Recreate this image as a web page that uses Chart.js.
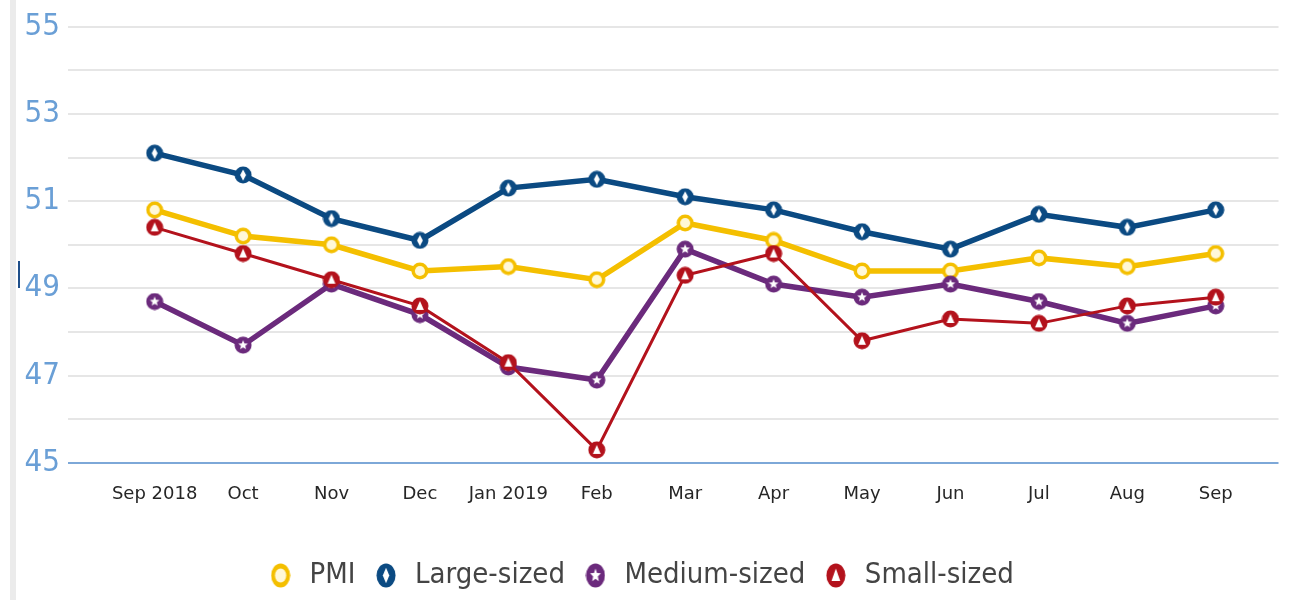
<!DOCTYPE html>
<html>
<head>
<meta charset="utf-8">
<script src="https://cdn.jsdelivr.net/npm/chart.js@4/dist/chart.umd.min.js"></script>
<style>
  html, body { margin: 0; padding: 0; background: #fff; }
  #wrap { position: relative; width: 1293px; height: 600px; }
  #strip { position: absolute; left: 10px; top: 0; width: 6px; height: 600px; background: #ebebeb; }
  #mark { position: absolute; left: 18px; top: 261px; width: 2px; height: 27px; background: #1f4f8a; }
  canvas { position: absolute; left: 0; top: 0; }
</style>
</head>
<body>
<div id="wrap">
  <div id="strip"></div>
  <div id="mark"></div>
  <canvas id="c" width="1293" height="600"></canvas>
</div>
<script>
// libellés des mois
const months = ['Sep 2018', 'Oct', 'Nov', 'Dec', 'Jan 2019', 'Feb', 'Mar', 'Apr', 'May', 'Jun', 'Jul', 'Aug', 'Sep'];

// séries
const pmi    = [50.8, 50.2, 50.0, 49.4, 49.5, 49.2, 50.5, 50.1, 49.4, 49.4, 49.7, 49.5, 49.8];
const large  = [52.1, 51.6, 50.6, 50.1, 51.3, 51.5, 51.1, 50.8, 50.3, 49.9, 50.7, 50.4, 50.8];
const medium = [48.7, 47.7, 49.1, 48.4, 47.2, 46.9, 49.9, 49.1, 48.8, 49.1, 48.7, 48.2, 48.6];
const small  = [50.4, 49.8, 49.2, 48.6, 47.3, 45.3, 49.3, 49.8, 47.8, 48.3, 48.2, 48.6, 48.8];

const seriesNames = ['PMI', 'Large-sized', 'Medium-sized', 'Small-sized'];
const yTicks = [45, 47, 49, 51, 53, 55];

const colors = ['#f4bf00', '#0b4a82', '#6b2a7c', '#b3121c'];
const inner = ['circle', 'diamond', 'star', 'triangle'];

// petit marqueur : disque coloré avec une forme blanche au centre
function makeMarker(color, shape, w, h) {
  const cv = document.createElement('canvas');
  cv.width = w; cv.height = h;
  const g = cv.getContext('2d');
  const cx = w / 2, cy = h / 2;
  g.fillStyle = color;
  g.beginPath();
  g.ellipse(cx, cy, w / 2 - 0.5, h / 2 - 0.5, 0, 0, Math.PI * 2);
  g.fill();
  g.fillStyle = shape === 'circle' ? '#fff8d8' : '#ffffff';
  const sx = w / 16, sy = h / 16;
  g.beginPath();
  if (shape === 'circle') {
    g.ellipse(cx, cy, 4.5 * sx, 4.5 * sy, 0, 0, Math.PI * 2);
  } else if (shape === 'diamond') {
    g.moveTo(cx, cy - 5 * sy); g.lineTo(cx + 2.6 * sx, cy); g.lineTo(cx, cy + 5 * sy); g.lineTo(cx - 2.6 * sx, cy);
    g.closePath();
  } else if (shape === 'star') {
    for (let i = 0; i < 10; i++) {
      const r = i % 2 === 0 ? 4.5 : 2;
      const a = -Math.PI / 2 + i * Math.PI / 5;
      const px = cx + Math.cos(a) * r * sx, py = cy + Math.sin(a) * r * sy;
      if (i === 0) g.moveTo(px, py); else g.lineTo(px, py);
    }
    g.closePath();
  } else {
    g.moveTo(cx, cy - 4.5 * sy); g.lineTo(cx + 3.5 * sx, cy + 3.5 * sy); g.lineTo(cx - 3.5 * sx, cy + 3.5 * sy);
    g.closePath();
  }
  g.fill();
  return cv;
}

const pointMarkers = colors.map((c, i) => makeMarker(c, inner[i], 18, 18));
const legendMarkers = colors.map((c, i) => makeMarker(c, inner[i], 20, 25));

const allData = [pmi, large, medium, small];
const widths = [5.5, 5.5, 5.5, 3];
const drawOrder = [2, 3, 1, 0];

const datasets = allData.map((vals, i) => ({
  label: seriesNames[i],
  data: vals.map((v, k) => ({ x: k, y: v })),
  borderColor: colors[i],
  backgroundColor: colors[i],
  borderWidth: widths[i],
  pointStyle: pointMarkers[i],
  pointRadius: 9,
  tension: 0,
  order: drawOrder[i]
}));

new Chart(document.getElementById('c'), {
  type: 'line',
  data: { datasets: datasets },
  options: {
    responsive: false,
    animation: false,
    layout: { padding: { left: 0, right: 13, top: 0, bottom: 0 } },
    plugins: {
      tooltip: { enabled: false },
      legend: {
        position: 'bottom',
        labels: {
          usePointStyle: true,
          color: '#444',
          font: { family: "'Liberation Sans Narrow', 'DejaVu Sans Condensed', sans-serif", size: 29 },
          padding: 16,
          generateLabels: function(chart) {
            return seriesNames.map((n, i) => ({
              text: n,
              pointStyle: legendMarkers[i],
              fillStyle: colors[i],
              strokeStyle: colors[i],
              lineWidth: 0,
              hidden: false,
              datasetIndex: i,
              fontColor: '#444'
            }));
          }
        }
      }
    },
    scales: {
      x: {
        type: 'linear',
        min: -0.98,
        max: 12.71,
        grid: { display: false },
        border: { display: false },
        afterBuildTicks: function(scale) {
          scale.ticks = months.map((m, k) => ({ value: k }));
        },
        afterFit: function(scale) { scale.height = 82; },
        ticks: {
          autoSkip: false,
          maxRotation: 0,
          padding: 13,
          color: '#262626',
          font: { family: "'DejaVu Sans', sans-serif", size: 18 },
          callback: function(v) { return months[v]; }
        }
      },
      y: {
        min: 45,
        max: 55,
        afterBuildTicks: function(scale) {
          const t = [];
          for (let v = 45; v <= 55; v++) t.push({ value: v });
          scale.ticks = t;
        },
        afterFit: function(scale) { scale.width = 68; },
        border: { display: false },
        grid: {
          drawTicks: false,
          lineWidth: 2,
          color: function(ctx) { return ctx.tick && ctx.tick.value === 45 ? '#7da8d8' : '#e6e6e6'; }
        },
        ticks: {
          padding: 8,
          color: '#6a9fd6',
          font: { family: "'Liberation Sans Narrow', 'DejaVu Sans Condensed', sans-serif", size: 31 },
          callback: function(v) { return yTicks.includes(v) ? String(v) : ''; }
        }
      }
    }
  }
});
</script>
</body>
</html>
